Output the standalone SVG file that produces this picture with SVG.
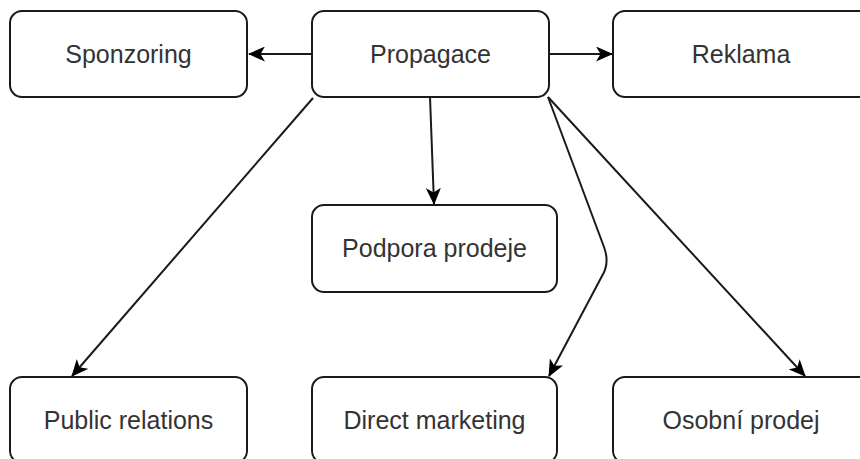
<svg xmlns="http://www.w3.org/2000/svg" width="860" height="459" viewBox="0 0 860 459">
<style>
.box{fill:#fff;stroke:#1a1a1a;stroke-width:2}
.lbl{font-family:"Liberation Sans",Arial,sans-serif;font-size:25px;fill:#333;text-anchor:middle;dominant-baseline:central}
.edge{fill:none;stroke:#1a1a1a;stroke-width:2}
</style>
<defs>
<marker id="arr" viewBox="0 0 17 15" refX="16" refY="7.5" markerWidth="17" markerHeight="15" markerUnits="userSpaceOnUse" orient="auto">
<path d="M0,0 L17,7.5 L0,15 L4.5,7.5 Z" fill="#000"/>
</marker>
</defs>
<rect width="860" height="459" fill="#fff"/>
<g id="edges">
<path class="edge" d="M312,54 L249,54" marker-end="url(#arr)"/>
<path class="edge" d="M549,54 L612,54" marker-end="url(#arr)"/>
<path class="edge" d="M430,97 L434,204" marker-end="url(#arr)"/>
<path class="edge" d="M313,98 L72,376" marker-end="url(#arr)"/>
<path class="edge" d="M548,97 L604,247 Q610,263 602,276 L549,376" marker-end="url(#arr)"/>
<path class="edge" d="M548,97 L805,376" marker-end="url(#arr)"/>
</g>
<g id="sponzoring"><rect class="box" x="10" y="11" width="237" height="86" rx="12"/><text class="lbl" x="128.5" y="54">Sponzoring</text></g>
<g id="propagace"><rect class="box" x="312" y="11" width="237" height="86" rx="12"/><text class="lbl" x="430.5" y="54">Propagace</text></g>
<g id="reklama"><rect class="box" x="613" y="11" width="270" height="86" rx="12"/><text class="lbl" x="741" y="54">Reklama</text></g>
<g id="podpora"><rect class="box" x="312" y="205" width="245" height="87" rx="12"/><text class="lbl" x="434.5" y="248">Podpora prodeje</text></g>
<g id="pr"><rect class="box" x="10" y="377" width="237" height="86" rx="12"/><text class="lbl" x="128.5" y="420">Public relations</text></g>
<g id="dm"><rect class="box" x="312" y="377" width="245" height="86" rx="12"/><text class="lbl" x="434.5" y="420">Direct marketing</text></g>
<g id="osobni"><rect class="box" x="613" y="377" width="270" height="86" rx="12"/><text class="lbl" x="741" y="420">Osobní prodej</text></g>
</svg>
